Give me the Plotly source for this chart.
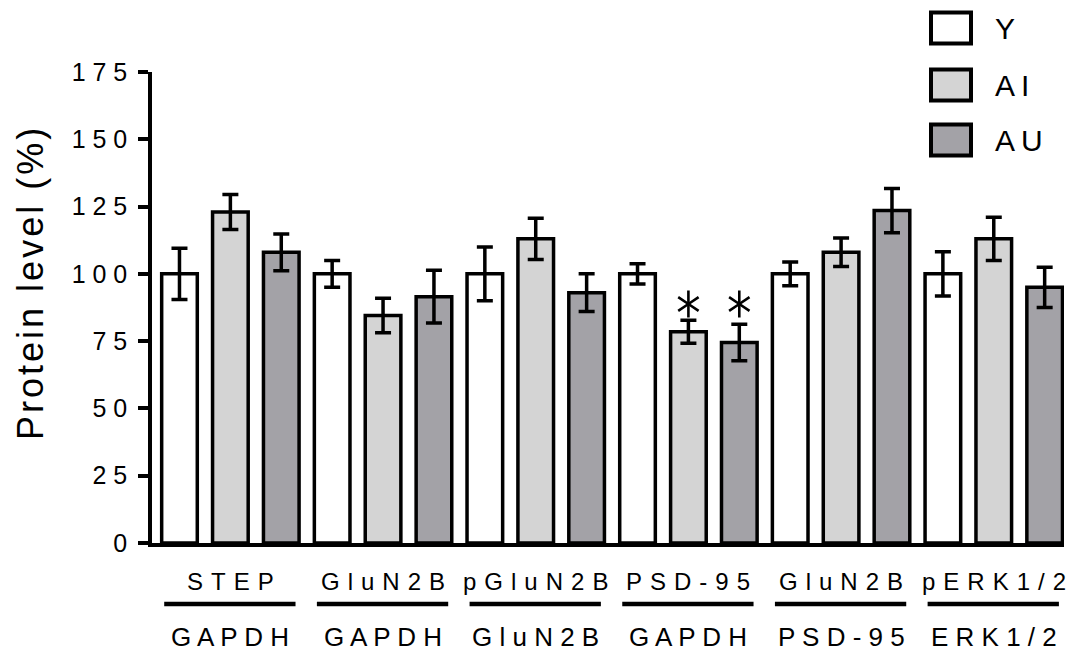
import plotly.graph_objects as go

# ---------------- data ----------------
groups_top = ["STEP", "GluN2B", "pGluN2B", "PSD-95", "GluN2B", "pERK1/2"]
groups_bottom = ["GAPDH", "GAPDH", "GluN2B", "GAPDH", "PSD-95", "ERK1/2"]
series_names = ["Y", "AI", "AU"]
y_mean = [100, 100, 100, 100, 100, 100]
y_err = [9.5, 5.0, 10.0, 3.8, 4.4, 8.2]
ai_mean = [123, 84.5, 113, 78.5, 108, 113]
ai_err = [6.5, 6.4, 7.7, 4.3, 5.3, 8.0]
au_mean = [108, 91.5, 93, 74.5, 123.5, 95]
au_err = [6.8, 9.8, 7.0, 6.8, 8.2, 7.5]
significant = [  # (group index, series index)
    (3, 1), (3, 2)
]
y_ticks = [0, 25, 50, 75, 100, 125, 150, 175]

means = [y_mean, ai_mean, au_mean]
errs = [y_err, ai_err, au_err]
colors = ["#ffffff", "#d4d4d4", "#a3a2a7"]

# ---------------- layout geometry (pixels) ----------------
W, H = 1069, 654
L, R, T, B = 152, 5, 72, 111
PW, PH = W - L - R, H - T - B


def px_x(px):
    return (px - L) / PW


def px_y(py):
    return (H - B - py) / PH


FONT = "Arial, Liberation Sans, Helvetica, sans-serif"
n_groups = len(groups_top)
n_series = len(series_names)

fig = go.Figure()
for s in range(n_series):
    xs = [g * n_series + s for g in range(n_groups)]
    fig.add_trace(go.Bar(
        x=xs, y=means[s], width=0.7, name=series_names[s],
        marker=dict(color=colors[s], line=dict(color="black", width=3.5)),
        error_y=dict(type="data", array=errs[s], visible=True,
                     color="black", thickness=3.5, width=8),
        showlegend=False,
    ))

# significance stars: placed above the tallest error bar among the
# significant bars of the same group
star_x, star_y = [], []
for g, s in significant:
    star_x.append(g * n_series + s)
    members = [ss for gg, ss in significant if gg == g]
    grp_top = max(means[k][g] + errs[k][g] for k in members)
    star_y.append(grp_top + 6)
for sym in ["y-up-open", "y-down-open"]:
    fig.add_trace(go.Scatter(
        x=star_x, y=star_y, mode="markers", showlegend=False,
        marker=dict(symbol=sym, size=17, color="black",
                    line=dict(color="black", width=2.6)),
    ))

shapes = []
annotations = []
SP_TOP = "\u2004"
for g in range(n_groups):
    cx = g * n_series + 1
    annotations.append(dict(
        x=cx, y=px_y(581), xref="x", yref="paper",
        text=SP_TOP.join(groups_top[g]), showarrow=False,
        font=dict(family=FONT, size=24, color="black"),
        xanchor="center", yanchor="middle"))
    annotations.append(dict(
        x=cx, y=px_y(637), xref="x", yref="paper",
        text=" ".join(groups_bottom[g]), showarrow=False,
        font=dict(family=FONT, size=26, color="black"),
        xanchor="center", yanchor="middle"))
    shapes.append(dict(
        type="line", xref="x", yref="paper",
        x0=g * n_series - 0.3, x1=g * n_series + 2.28,
        y0=px_y(604), y1=px_y(604),
        line=dict(color="black", width=4.5)))

# legend (manual)
leg_rows = [28, 85, 140]
for s in range(n_series):
    cy = leg_rows[s]
    shapes.append(dict(
        type="rect", xref="paper", yref="paper",
        x0=px_x(931), x1=px_x(971), y0=px_y(cy - 15.5), y1=px_y(cy + 15.5),
        fillcolor=colors[s], line=dict(color="black", width=4)))
    annotations.append(dict(
        x=px_x(993), y=px_y(cy), xref="paper", yref="paper",
        text="\u2009".join(series_names[s]), showarrow=False,
        font=dict(family=FONT, size=30, color="black"),
        xanchor="left", yanchor="middle"))

# y axis title
annotations.append(dict(
    x=px_x(30), y=px_y(284), xref="paper", yref="paper",
    text="\u200a".join("Protein level (%)"), showarrow=False, textangle=-90,
    font=dict(family=FONT, size=36, color="black"),
    xanchor="center", yanchor="middle"))

fig.update_layout(
    width=W, height=H,
    margin=dict(l=L, r=R, t=T, b=B, pad=0),
    paper_bgcolor="white", plot_bgcolor="white",
    barmode="overlay",
    shapes=shapes, annotations=annotations,
    font=dict(family=FONT, color="black"),
    xaxis=dict(range=[-0.54, n_groups * n_series - 0.62], showgrid=False,
               zeroline=False, showline=True, linecolor="black", linewidth=3.5,
               showticklabels=False, ticks=""),
    yaxis=dict(range=[0, 175], tickvals=y_ticks,
               ticktext=[" ".join(str(v)) for v in y_ticks],
               showgrid=False, zeroline=False, showline=True,
               linecolor="black", linewidth=3.5,
               ticks="outside", ticklen=10, tickwidth=3.5, tickcolor="black",
               tickfont=dict(family=FONT, size=25, color="black"),
               ticklabelstandoff=6),
)

fig.write_html(
    "out.html",
    config={"displayModeBar": False},
    post_script="document.body.style.margin='0';document.body.style.overflow='hidden';",
)
